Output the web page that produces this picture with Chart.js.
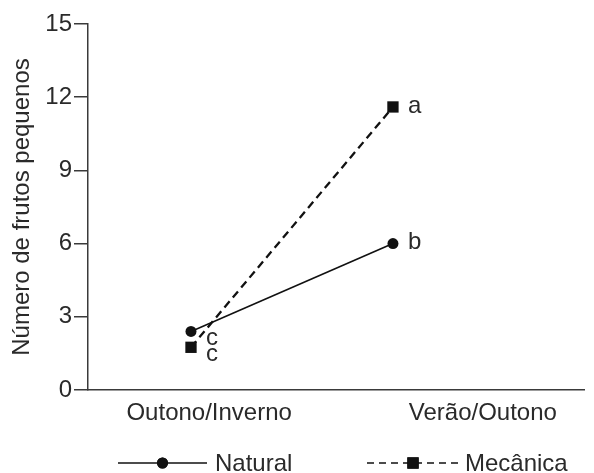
<!DOCTYPE html>
<html>
<head>
<meta charset="utf-8">
<script src="https://cdn.jsdelivr.net/npm/chart.js@4.4.1/dist/chart.umd.min.js"></script>
<style>
  html, body { margin: 0; padding: 0; background: #fff; }
  #wrap { width: 594px; height: 473px; }
</style>
</head>
<body>
<div id="wrap"><canvas id="frutos" width="594" height="473"></canvas></div>
<script>
// Épocas (eixo x) e valores por tipo de polinização
const epocas = ['Outono/Inverno', 'Verão/Outono'];
const natural = [2.4, 6.0];
const mecanica = [1.75, 11.6];
const letrasNatural = ['c', 'b'];
const letrasMecanica = ['c', 'a'];
const yTicks = [0, 3, 6, 9, 12, 15];

// onde ficam os rótulos das épocas ao longo do eixo x (em unidades do eixo)
const posRotulos = [0.09, 1.445];

const FONTE = '"Liberation Sans", Arial, sans-serif';
const TAM = 24;
const COR_TEXTO = '#2a2a2a';
const COR_EIXO = '#3a3a3a';

// Letras de significância ao lado de cada ponto
const letrasPlugin = {
  id: 'letras',
  afterDatasetsDraw(chart) {
    const ctx = chart.ctx;
    ctx.save();
    ctx.font = TAM + 'px ' + FONTE;
    ctx.fillStyle = COR_TEXTO;
    ctx.textAlign = 'left';
    ctx.textBaseline = 'middle';
    chart.data.datasets.forEach((ds, i) => {
      const meta = chart.getDatasetMeta(i);
      meta.data.forEach((pt, j) => {
        const dy = j === 0 ? 7 : -1;
        ctx.fillText(ds.letras[j], pt.x + 15, pt.y + dy);
      });
    });
    ctx.restore();
  }
};

// Legenda com linha e marcador no meio
const legendaPlugin = {
  id: 'legendaLinha',
  afterDraw(chart) {
    const ctx = chart.ctx;
    const y = 463;
    const itens = [
      { x0: 118, x1: 207, tx: 215, dash: [] },
      { x0: 367, x1: 459, tx: 465, dash: [7, 5] }
    ];
    chart.data.datasets.forEach((ds, i) => {
      const it = itens[i];
      ctx.save();
      ctx.strokeStyle = ds.borderColor;
      ctx.lineWidth = 1.5;
      ctx.setLineDash(it.dash);
      ctx.beginPath();
      ctx.moveTo(it.x0, y);
      ctx.lineTo(it.x1, y);
      ctx.stroke();
      ctx.setLineDash([]);
      Chart.helpers.drawPoint(ctx, {
        pointStyle: ds.pointStyle,
        radius: ds.pointRadius,
        borderWidth: 0
      }, (it.x0 + it.x1) / 2, y);
      ctx.fillStyle = ds.borderColor;
      ctx.fill();
      ctx.font = TAM + 'px ' + FONTE;
      ctx.fillStyle = COR_TEXTO;
      ctx.textAlign = 'left';
      ctx.textBaseline = 'middle';
      ctx.fillText(ds.label, it.tx, y + 1);
      ctx.restore();
    });
  }
};

const ctx = document.getElementById('frutos');
new Chart(ctx.getContext('2d'), {
  type: 'line',
  data: {
    datasets: [{
      label: 'Natural',
      data: natural.map((v, i) => ({ x: i, y: v })),
      letras: letrasNatural,
      borderColor: '#111',
      backgroundColor: '#111',
      borderWidth: 1.6,
      pointStyle: 'circle',
      pointRadius: 5.5,
      pointBorderWidth: 0,
      tension: 0
    }, {
      label: 'Mecânica',
      data: mecanica.map((v, i) => ({ x: i, y: v })),
      letras: letrasMecanica,
      borderColor: '#111',
      backgroundColor: '#111',
      borderWidth: 2.3,
      borderDash: [8, 5],
      pointStyle: 'rect',
      pointRadius: 8,
      pointBorderWidth: 0,
      tension: 0
    }]
  },
  options: {
    responsive: false,
    animation: false,
    events: [],
    layout: {
      padding: { top: 24, right: 10, left: 0, bottom: 0 }
    },
    plugins: {
      legend: { display: false },
      tooltip: { enabled: false }
    },
    scales: {
      x: {
        type: 'linear',
        min: -0.51,
        max: 1.946,
        afterBuildTicks(scale) {
          scale.ticks = posRotulos.map(p => ({ value: p }));
        },
        afterFit(scale) {
          scale.height = 83;
        },
        grid: { display: false, drawTicks: false },
        border: { display: true, color: COR_EIXO, width: 1.5 },
        ticks: {
          callback: (v, i) => epocas[i],
          padding: 9,
          maxRotation: 0,
          autoSkip: false,
          color: COR_TEXTO,
          font: { family: FONTE, size: TAM }
        }
      },
      y: {
        min: 0,
        max: 15,
        afterBuildTicks(scale) {
          scale.ticks = yTicks.map(v => ({ value: v }));
        },
        afterFit(scale) {
          scale.width = 88;
        },
        grid: {
          drawOnChartArea: false,
          drawTicks: true,
          tickLength: 14,
          color: COR_EIXO,
          lineWidth: 1.5
        },
        border: { display: true, color: COR_EIXO, width: 1.5 },
        ticks: {
          padding: 2,
          color: COR_TEXTO,
          font: { family: FONTE, size: TAM }
        },
        title: {
          display: true,
          text: 'Número de frutos pequenos',
          color: COR_TEXTO,
          font: { family: FONTE, size: TAM },
          padding: { top: 8, bottom: 0 }
        }
      }
    }
  },
  plugins: [letrasPlugin, legendaPlugin]
});
</script>
</body>
</html>
